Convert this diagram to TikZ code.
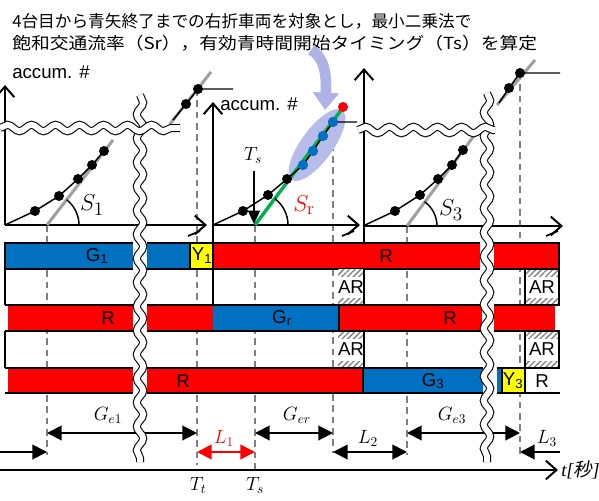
\documentclass[tikz,border=0pt]{standalone}
\usepackage{fontspec}
\newfontfamily\cjk{Noto Sans CJK JP}
\newfontfamily\cjksl[FakeSlant=0.2]{Noto Sans CJK JP}
\newfontfamily\arial{Liberation Sans}
\newfontfamily\timesf{Liberation Serif}
\usetikzlibrary{arrows.meta,decorations.pathmorphing,patterns.meta}
\definecolor{gblue}{RGB}{0,112,192}
\definecolor{gred}{RGB}{255,0,0}
\definecolor{gyel}{RGB}{255,255,0}
\definecolor{ggreen}{RGB}{0,176,80}
\definecolor{lav}{RGB}{174,178,228}
\definecolor{lavl}{RGB}{184,188,234}
\definecolor{dgray}{RGB}{128,128,128}
\definecolor{lgray}{RGB}{160,160,160}
\tikzset{
 myaxis/.style={line width=1.5pt, -{Straight Barb[length=8pt,width=14pt]}},
 dimarrow/.style={line width=1.5pt, {Triangle[length=11pt,width=11pt]}-{Triangle[length=11pt,width=11pt]}},
 dimone/.style={line width=1.5pt, -{Triangle[length=11pt,width=11pt]}},
 guide/.style={dgray, line width=1.1pt, dash pattern=on 5pt off 3.5pt},
 fitline/.style={lgray, line width=2.3pt},
 dataline/.style={line width=1.1pt},
 blackdot/.style={circle, fill=black, inner sep=0pt, minimum size=7.5pt},
 bluedot/.style={circle, fill=gblue, inner sep=0pt, minimum size=7.5pt},
 reddot/.style={circle, fill=gred, inner sep=0pt, minimum size=7.5pt},
 brkouter/.style={decorate, decoration={snake, amplitude=2.4pt, segment length=18pt}, line width=6pt, black},
 brkinner/.style={decorate, decoration={snake, amplitude=2.4pt, segment length=18pt}, line width=4.4pt, white},
 bandline/.style={line width=1.5pt},
 bandtxt/.style={font=\arial\fontsize{14}{14}\selectfont, inner sep=0pt},
 mathlbl/.style={font=\fontsize{14}{14}\selectfont, inner sep=0pt},
 biglbl/.style={font=\fontsize{19}{19}\selectfont, inner sep=0pt},
 hatch/.style={pattern={Lines[angle=45,distance=3pt,line width=1pt]}, pattern color=gray},
 titletxt/.style={font=\cjk\fontsize{12.5}{12.5}\selectfont, inner sep=0pt, anchor=west},
}
\begin{document}
\begin{tikzpicture}[x=0.75pt,y=-0.75pt]
\useasboundingbox (0,0) rectangle (599,500);

% ---------- titles ----------
\node[titletxt] (title1) at (12,21) {4台目から青矢終了までの右折車両を対象とし，最小二乗法で};
\node[titletxt] (title2) at (12,43) {\scalebox{1.125}[1]{飽和交通流率（Sr），有効青時間開始タイミング（Ts）を算定}};
\node[bandtxt, anchor=west] (acc1) at (12,72) {accum. \#};
\node[bandtxt, anchor=west] (acc2) at (220,104) {accum. \#};

% ---------- dashed guides ----------
\draw[guide] (47,225) -- (47,455);
\draw[guide] (197,89) -- (197,465);
\draw[guide] (255,225) -- (255,470);
\draw[guide] (333,122) -- (333,453);
\draw[guide] (407,226) -- (407,455);
\draw[guide] (520,73) -- (520,455);

% ---------- ellipse and curved arrow ----------
\fill[lavl, rotate around={54:(317,145)}] (317,145) ellipse [x radius=43, y radius=16];
\draw[lav, line width=8pt, -{Triangle[length=13pt,width=19pt]}] (311,50) .. controls (323,56) and (327,72) .. (325,110);

% ---------- panel 1 ----------
\coordinate (o1) at (5,225);
\draw[myaxis] (o1) -- (5,85);
\draw[myaxis] (o1) -- (207,225);
\coordinate (f1a) at (47,225);
\coordinate (f1b) at (113,140);
\draw[fitline] (f1a) -- (f1b);
\draw[line width=1.1pt] (79,225) arc[start angle=0,end angle=-52,radius=32];
\node[blackdot] (d11) at (35,211) {};
\node[blackdot] (d12) at (59,196) {};
\node[blackdot] (d13) at (78,179) {};
\node[blackdot] (d14) at (92,165) {};
\node[blackdot] (d15) at (104,151) {};
\draw[dataline] (o1) -- (d11.center) -- (d12.center) -- (d13.center) -- (d14.center) -- (d15.center);
\node[biglbl] (s1) at (92,205) {$S_1$};
% upper piece
\draw[fitline] (170,124) -- (211,72);
\node[blackdot] (d16) at (186,104) {};
\node[blackdot] (d17) at (198,89) {};
\coordinate (e1) at (233,89);
\draw[dataline] (173,120) -- (d16.center) -- (d17.center) -- (e1);

% ---------- panel 2 ----------
\coordinate (o2) at (213,225);
\draw[myaxis] (213,331) -- (213,102);
\draw[myaxis] (o2) -- (360,225);
\coordinate (g2a) at (255,225);
\coordinate (g2b) at (345,105);
\draw[ggreen, line width=2.6pt] (g2a) -- (g2b);
\draw[line width=1.1pt] (288,225) arc[start angle=0,end angle=-53,radius=33];
\node[blackdot] (d21) at (243,211) {};
\node[blackdot] (d22) at (268,195) {};
\node[blackdot] (d23) at (287,179) {};
\node[bluedot] (b21) at (303,165) {};
\node[bluedot] (b22) at (313,151) {};
\node[bluedot] (b23) at (323,136) {};
\node[bluedot] (b24) at (333,122) {};
\coordinate (e2) at (357,122);
\draw[dataline] (o2) -- (d21.center) -- (d22.center) -- (d23.center) -- (b21.center) -- (b22.center) -- (b23.center) -- (b24.center) -- (e2);
\node[bluedot] at (b21) {};
\node[bluedot] at (b22) {};
\node[bluedot] at (b23) {};
\node[bluedot] at (b24) {};
\node[reddot] (r21) at (343,107) {};
\node[mathlbl] (tsl) at (253,155) {$T_s$};
\coordinate (tsa) at (254,171);
\coordinate (tsb) at (254,224);
\draw[line width=1.1pt, -{Triangle[length=10pt,width=9pt]}] (tsa) -- (tsb);
\node[biglbl, text=gred] (sr) at (304,205) {$S_{\mathrm{r}}$};

% ---------- panel 3 ----------
\coordinate (o3) at (363,226);
\draw[myaxis] (364,243) -- (364,68);
\draw[myaxis] (o3) -- (563,226);
\draw[fitline] (407,226) -- (479,129);
\draw[line width=1.1pt] (437,226) arc[start angle=0,end angle=-54,radius=30];
\node[blackdot] (d31) at (395,211) {};
\node[blackdot] (d32) at (420,195) {};
\node[blackdot] (d33) at (438,179) {};
\node[blackdot] (d34) at (452,165) {};
\node[blackdot] (d35) at (463,150) {};
\draw[dataline] (o3) -- (d31.center) -- (d32.center) -- (d33.center) -- (d34.center) -- (d35.center);
\node[biglbl] (s3) at (451,210) {$S_3$};
\draw[fitline] (497,105) -- (535,60);
\node[blackdot] (d36) at (509,88) {};
\node[blackdot] (d37) at (520,73) {};
\coordinate (e3) at (560,73);
\draw[dataline] (499,103) -- (d36.center) -- (d37.center) -- (e3);

% ---------- small marks above row A ----------
\draw[line width=1.3pt] (188,236) -- (200,231);
\draw[line width=1.3pt] (342,236) -- (354,231);
\draw[line width=1.3pt] (546,236) -- (558,231);

% ---------- row A ----------
\fill[gblue] (5,243) rectangle (133,269);
\fill[gblue] (147,243) rectangle (190,269);
\fill[gyel] (190,243) rectangle (213,269);
\fill[gred] (213,243) rectangle (480,269);
\fill[gred] (494,243) rectangle (559,269);
\draw[bandline] (133,243) -- (5,243) -- (5,305);
\draw[bandline] (5,269) -- (133,269);
\draw[bandline] (147,243) -- (480,243) (147,269) -- (480,269);
\draw[bandline] (494,243) -- (559,243) -- (559,269) -- (494,269);
\draw[bandline] (190,243) -- (190,269);
\draw[bandline] (213,243) -- (213,269);
\node[bandtxt] (ga) at (97,256) {G\textsubscript{1}};
\node[bandtxt] (ya) at (202,256) {Y\textsubscript{1}};
\node[bandtxt] (ra) at (386,256) {R};

% ---------- AR boxes (rows B and D) ----------
\foreach \xa/\xb/\ya/\yb in {338/364/269/305, 338/364/331/368, 525/559/269/305, 525/559/331/368}{
  \fill[white] (\xa,\ya) rectangle (\xb,\yb);
  \fill[hatch] (\xa,\ya) rectangle (\xb,\ya+7);
  \fill[hatch] (\xa,\yb-7) rectangle (\xb,\yb);
  \node[bandtxt] at ({(\xa+\xb)/2},{(\ya+\yb)/2}) {AR};
}
\draw[bandline] (364,269) -- (364,305);
\draw[bandline] (364,331) -- (364,368);
\draw[bandline] (525,269) rectangle (559,305);
\draw[bandline] (525,331) rectangle (559,368);
\draw[bandline] (5,331) -- (5,368);

% ---------- row C ----------
\fill[gred] (8,305) rectangle (133,331);
\fill[gred] (147,305) rectangle (213,331);
\fill[gblue] (213,305) rectangle (339,331);
\fill[gred] (339,305) rectangle (482,331);
\fill[gred] (494,305) rectangle (555,331);
\draw[bandline] (5,305) -- (133,305) (5,331) -- (133,331);
\draw[bandline] (147,305) -- (482,305) (147,331) -- (482,331);
\draw[bandline] (494,305) -- (559,305) (494,331) -- (555,331);
\draw[bandline] (339,305) -- (339,331);
\node[bandtxt] (rc1) at (108,318) {R};
\node[bandtxt] (gc) at (282,318) {G\textsubscript{r}};
\node[bandtxt] (rc2) at (450,318) {R};

% ---------- row E ----------
\fill[gred] (8,368) rectangle (133,393);
\fill[gred] (147,368) rectangle (363,393);
\fill[gblue] (363,368) rectangle (483,393);
\fill[gblue] (497,368) rectangle (502,393);
\fill[gyel] (502,368) rectangle (525,393);
\draw[bandline] (5,368) -- (133,368) (5,393) -- (133,393);
\draw[bandline] (147,368) -- (483,368) (147,393) -- (483,393);
\draw[bandline] (497,368) -- (559,368) (497,393) -- (560,393);
\draw[bandline] (363,368) -- (363,393);
\draw[bandline] (502,368) -- (502,393);
\draw[bandline] (525,368) -- (525,393);
\node[bandtxt] (re1) at (183,381) {R};
\node[bandtxt] (ge) at (433,381) {G\textsubscript{3}};
\node[bandtxt] (ye) at (513,381) {Y\textsubscript{3}};
\node[bandtxt] (re2) at (542,381) {R};

% ---------- durations ----------
\coordinate (t0) at (0,452);
\coordinate (tg1) at (47,452);
\draw[dimone] (t0) -- (tg1);
\draw[dimarrow] (47,433) -- (197,433);
\draw[dimarrow, gred] (197,452) -- (255,452);
\draw[dimarrow] (255,433) -- (333,433);
\draw[dimarrow] (333,452) -- (407,452);
\draw[dimarrow] (407,433) -- (520,433);
\draw[dimone] (560,452) -- (520,452);
\node[mathlbl] (lge1) at (108,415) {$G_{e1}$};
\node[mathlbl, text=gred] (ll1) at (224,438) {$L_1$};
\node[mathlbl] (lger) at (297,415) {$G_{er}$};
\node[mathlbl] (ll2) at (368,438) {$L_2$};
\node[mathlbl] (lge3) at (452,415) {$G_{e3}$};
\node[mathlbl] (ll3) at (547,438) {$L_3$};

% ---------- time axis ----------
\draw[myaxis] (0,470) -- (558,470);
\node[mathlbl, anchor=west] (tax) at (561,470) {{\timesf\itshape t[}{\cjksl 秒}{\timesf\itshape ]}};
\node[mathlbl] (ttl) at (198,485) {$T_t$};
\node[mathlbl] (tsl2) at (255,485) {$T_s$};

% ---------- breaks ----------
\draw[brkouter] (140,95) -- (140,462);
\draw[brkinner] (140,95) -- (140,462);
\draw[brkouter] (0,128) -- (180,128);
\draw[brkinner] (0,128) -- (180,128);
\draw[brkouter] (487,93) -- (487,462);
\draw[brkinner] (487,93) -- (487,462);
\draw[brkouter] (358,130) -- (495,130);
\draw[brkinner] (358,130) -- (495,130);
\end{tikzpicture}
\end{document}
